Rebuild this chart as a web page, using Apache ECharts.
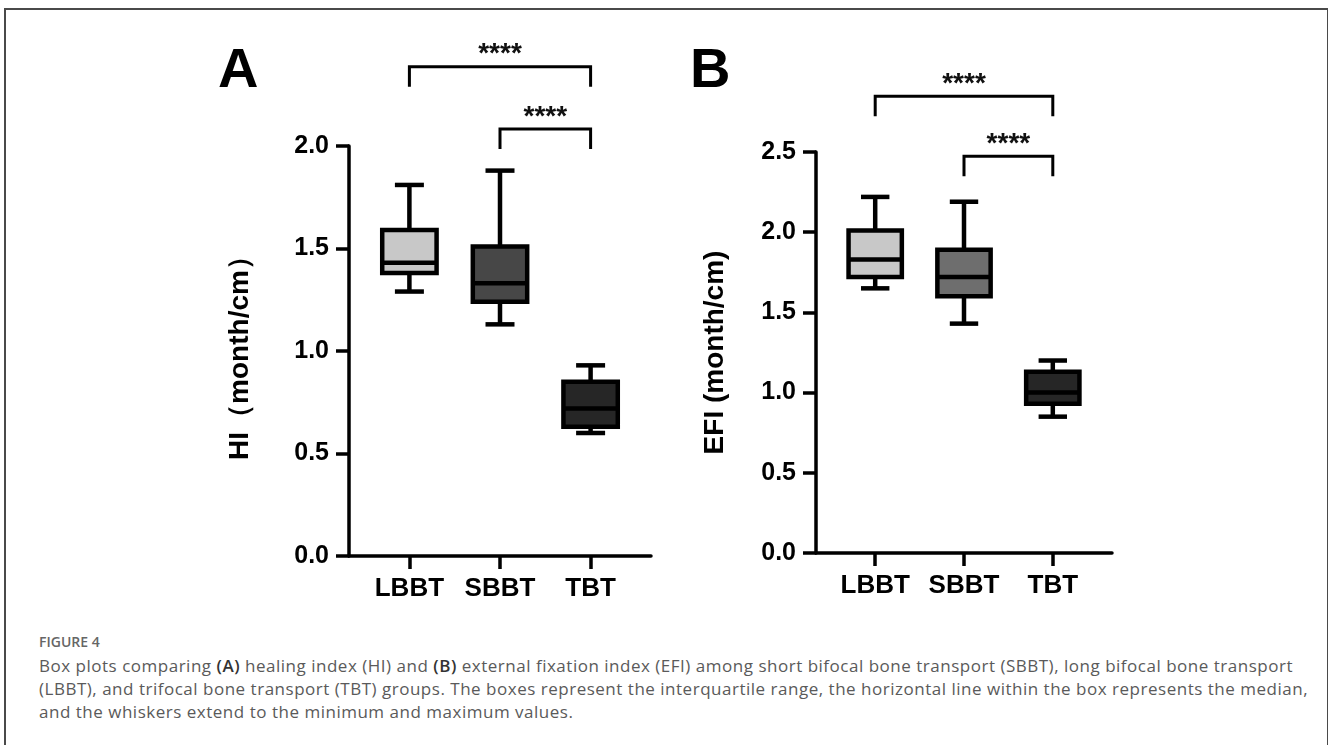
<!DOCTYPE html>
<html>
<head>
<meta charset="utf-8">
<script src="https://cdn.jsdelivr.net/npm/echarts@6/dist/echarts.min.js"></script>
<style>
  body { margin: 0; background: #fff; }
  #frame { position: absolute; left: 4px; top: 8px; width: 1321px; height: 760px; border: 2px solid #4a4a4a; border-bottom: none; }
  #chart { position: absolute; left: 0; top: 0; width: 1328px; height: 620px; }
  #fig { position: absolute; left: 39px; top: 634px; font: 600 14px/16px 'Open Sans', sans-serif; color: #666; }
  #caption { position: absolute; left: 39px; top: 654px; font: 17px/23px 'Open Sans', sans-serif; color: #5a5a5a; }
  #caption div { white-space: nowrap; }
  #caption b { color: #333; font-weight: 600; }
</style>
</head>
<body>
<div id="frame"></div>
<div id="chart"></div>
<div id="fig">FIGURE 4</div>
<div id="caption">
  <div>Box plots comparing <b>(A)</b> healing index (HI) and <b>(B)</b> external fixation index (EFI) among short bifocal bone transport (SBBT), long bifocal bone transport</div>
  <div>(LBBT), and trifocal bone transport (TBT) groups. The boxes represent the interquartile range, the horizontal line within the box represents the median,</div>
  <div>and the whiskers extend to the minimum and maximum values.</div>
</div>
<script>
var groups = ['LBBT', 'SBBT', 'TBT'];

// panel A: healing index
var hiMin = [1.29, 1.13, 0.60];
var hiQ1 = [1.38, 1.24, 0.63];
var hiMedian = [1.43, 1.33, 0.72];
var hiQ3 = [1.59, 1.51, 0.85];
var hiMax = [1.81, 1.88, 0.93];

// panel B: external fixation index
var efiMin = [1.65, 1.43, 0.85];
var efiQ1 = [1.72, 1.60, 0.93];
var efiMedian = [1.83, 1.72, 1.00];
var efiQ3 = [2.01, 1.89, 1.13];
var efiMax = [2.22, 2.19, 1.20];

// significance brackets: [from group, to group, bar level]
var hiSig = [[0, 2, 2.387], [1, 2, 2.083]];
var efiSig = [[0, 2, 2.847], [1, 2, 2.474]];
var sigText = '****';

var hiColors = ['#c8c8c8', '#474747', '#262626'];
var efiColors = ['#c8c8c8', '#6e6e6e', '#262626'];

var font = '"Liberation Sans", Arial, sans-serif';

function boxData(mins, q1, med, q3, maxs) {
  var out = [];
  for (var i = 0; i < groups.length; i++) {
    out.push([i, mins[i], q1[i], med[i], q3[i], maxs[i]]);
  }
  return out;
}

function makeBox(colors) {
  return function (params, api) {
    var x = api.value(0);
    var lo = api.coord([x, api.value(1)]);
    var q1 = api.coord([x, api.value(2)]);
    var md = api.coord([x, api.value(3)]);
    var q3 = api.coord([x, api.value(4)]);
    var hi = api.coord([x, api.value(5)]);
    var w = api.size([0.6, 0])[0];
    var cap = api.size([0.32, 0])[0];
    var cx = lo[0];
    var st = { stroke: '#000', lineWidth: 4.5 };
    return {
      type: 'group',
      children: [
        { type: 'line', shape: { x1: cx, y1: lo[1], x2: cx, y2: q1[1] }, style: st },
        { type: 'line', shape: { x1: cx, y1: q3[1], x2: cx, y2: hi[1] }, style: st },
        { type: 'line', shape: { x1: cx - cap / 2, y1: lo[1], x2: cx + cap / 2, y2: lo[1] }, style: st },
        { type: 'line', shape: { x1: cx - cap / 2, y1: hi[1], x2: cx + cap / 2, y2: hi[1] }, style: st },
        { type: 'rect', shape: { x: cx - w / 2, y: q3[1], width: w, height: q1[1] - q3[1] },
          style: { fill: colors[params.dataIndex], stroke: '#000', lineWidth: 4.5 } },
        { type: 'line', shape: { x1: cx - w / 2, y1: md[1], x2: cx + w / 2, y2: md[1] }, style: st }
      ]
    };
  };
}

function bracketItem(params, api) {
  var a = api.coord([api.value(0), api.value(2)]);
  var b = api.coord([api.value(1), api.value(2)]);
  var leg = 20;
  return {
    type: 'group',
    children: [
      { type: 'polyline',
        shape: { points: [[a[0], a[1] + leg], [a[0], a[1]], [b[0], b[1]], [b[0], b[1] + leg]] },
        style: { stroke: '#000', fill: null, lineWidth: 3 } },
      { type: 'text',
        style: { text: sigText, x: (a[0] + b[0]) / 2, y: a[1] - 12, align: 'center', verticalAlign: 'middle',
          fontSize: 28, fontWeight: 'bold', fontFamily: font, fill: '#111' } }
    ]
  };
}

function xAxisFor(idx) {
  return {
    gridIndex: idx,
    type: 'value',
    min: -2 / 3,
    max: 8 / 3,
    axisLine: { onZero: false, lineStyle: { color: '#000', width: 3.5 } },
    axisTick: { customValues: [0, 1, 2], length: 13, lineStyle: { color: '#000', width: 3.5 } },
    axisLabel: {
      customValues: [0, 1, 2],
      formatter: function (v) { return groups[Math.round(v)]; },
      margin: 20, color: '#000', fontSize: 26, fontWeight: 'bold', fontFamily: font
    },
    splitLine: { show: false }
  };
}

function yAxisFor(idx, max, name, gap) {
  return {
    gridIndex: idx,
    type: 'value',
    min: 0,
    max: max,
    interval: 0.5,
    name: name,
    nameLocation: 'middle',
    nameRotate: 90,
    nameGap: gap,
    nameTextStyle: { color: '#000', fontSize: 28, fontWeight: 'bold', fontFamily: font },
    axisLine: { show: true, onZero: false, lineStyle: { color: '#000', width: 3.5 } },
    axisTick: { show: true, length: 13, lineStyle: { color: '#000', width: 3.5 } },
    axisLabel: {
      formatter: function (v) { return v.toFixed(1); },
      margin: 20, color: '#000', fontSize: 25, fontWeight: 'bold', fontFamily: font
    },
    splitLine: { show: false }
  };
}

var chart = echarts.init(document.getElementById('chart'));

var option = {
  animation: false,
  grid: [
    { left: 349, top: 146, width: 302, height: 410 },
    { left: 816, top: 152, width: 296, height: 401 }
  ],
  xAxis: [xAxisFor(0), xAxisFor(1)],
  yAxis: [
    yAxisFor(0, 2, 'HI（month/cm）', 95),
    yAxisFor(1, 2.5, 'EFI (month/cm)', 87)
  ],
  graphic: [
    { type: 'text', left: 218, top: 44, style: { text: 'A', fontSize: 56, fontWeight: 'bold', fontFamily: font, fill: '#000' } },
    { type: 'text', left: 690, top: 44, style: { text: 'B', fontSize: 56, fontWeight: 'bold', fontFamily: font, fill: '#000' } }
  ],
  series: [
    { type: 'custom', xAxisIndex: 0, yAxisIndex: 0, clip: false, renderItem: makeBox(hiColors),
      data: boxData(hiMin, hiQ1, hiMedian, hiQ3, hiMax) },
    { type: 'custom', xAxisIndex: 1, yAxisIndex: 1, clip: false, renderItem: makeBox(efiColors),
      data: boxData(efiMin, efiQ1, efiMedian, efiQ3, efiMax) },
    { type: 'custom', xAxisIndex: 0, yAxisIndex: 0, clip: false, renderItem: bracketItem,
      encode: { x: [0, 1], y: 2 }, data: hiSig },
    { type: 'custom', xAxisIndex: 1, yAxisIndex: 1, clip: false, renderItem: bracketItem,
      encode: { x: [0, 1], y: 2 }, data: efiSig }
  ]
};

chart.setOption(option);

// stretch the caption lines to the printed width
var lines = document.querySelectorAll('#caption div');
var first = lines[0];
var span = document.createElement('span');
span.innerHTML = first.innerHTML;
first.innerHTML = '';
first.appendChild(span);
var extra = (1254 - span.getBoundingClientRect().width) / first.textContent.length;
document.getElementById('caption').style.letterSpacing = extra.toFixed(3) + 'px';
</script>
</body>
</html>
